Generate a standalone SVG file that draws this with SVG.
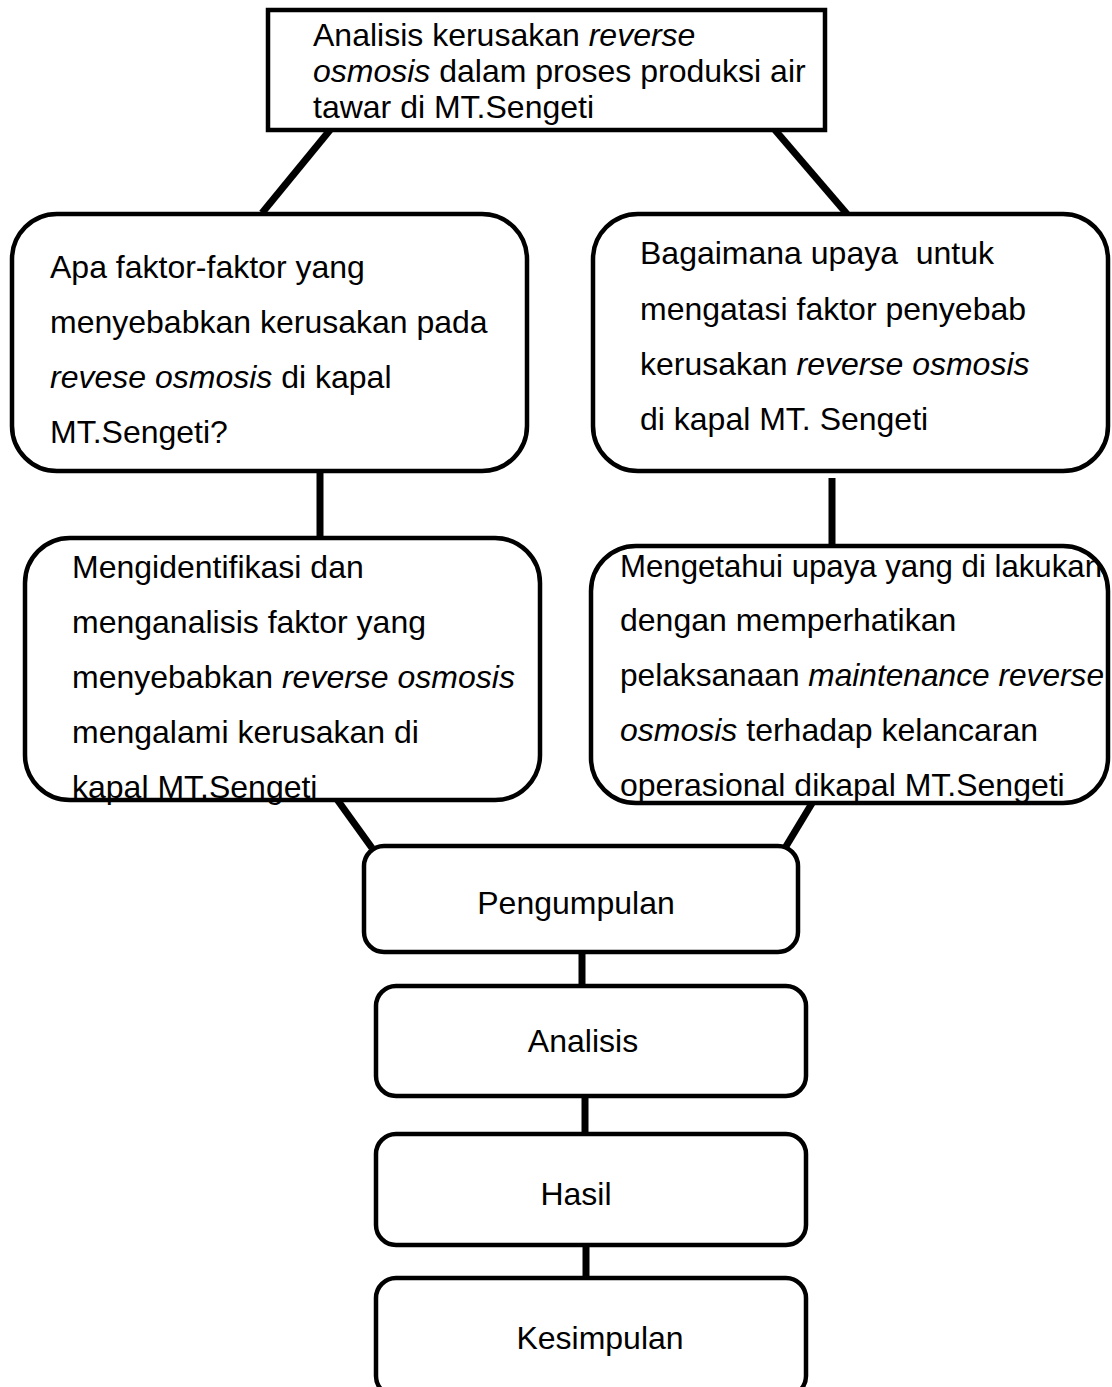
<svg xmlns="http://www.w3.org/2000/svg" width="1112" height="1387" viewBox="0 0 1112 1387">
<style>
.box{fill:#fff;stroke:#000;stroke-width:4.5}
.t{font-family:"Liberation Sans",Arial,sans-serif;font-size:32px;fill:#000;white-space:pre}
.i{font-style:italic}
.c{stroke:#000;stroke-width:7;fill:none}
</style>
<rect width="1112" height="1387" fill="#fff"/>
<g id="connectors">
<line class="c" x1="330" y1="130" x2="262" y2="213"/>
<line class="c" x1="775" y1="130" x2="847" y2="214"/>
<line class="c" x1="320" y1="470" x2="320" y2="538"/>
<line class="c" x1="832" y1="478" x2="832" y2="546"/>
<line class="c" x1="336" y1="798" x2="372" y2="848"/>
<line class="c" x1="814" y1="800" x2="785" y2="848"/>
<line class="c" x1="582" y1="952" x2="582" y2="986"/>
<line class="c" x1="585" y1="1096" x2="585" y2="1134"/>
<line class="c" x1="586" y1="1245" x2="586" y2="1278"/>
</g>
<g id="top">
<rect class="box" x="268" y="10" width="557" height="120"/>
<text class="t" x="313" y="46">Analisis kerusakan <tspan class="i">reverse</tspan></text>
<text class="t" x="313" y="82"><tspan class="i">osmosis</tspan> dalam proses produksi air</text>
<text class="t" x="313" y="118">tawar di MT.Sengeti</text>
</g>
<g id="q1">
<rect class="box" x="12" y="214" width="515" height="257" rx="45"/>
<text class="t" x="50" y="278">Apa faktor-faktor yang</text>
<text class="t" x="50" y="333">menyebabkan kerusakan pada</text>
<text class="t" x="50" y="388"><tspan class="i">revese osmosis</tspan> di kapal</text>
<text class="t" x="50" y="443">MT.Sengeti?</text>
</g>
<g id="q2">
<rect class="box" x="593" y="214" width="515" height="257" rx="45"/>
<text class="t" x="640" y="264" xml:space="preserve">Bagaimana upaya  untuk</text>
<text class="t" x="640" y="320">mengatasi faktor penyebab</text>
<text class="t" x="640" y="375">kerusakan <tspan class="i">reverse osmosis</tspan></text>
<text class="t" x="640" y="430">di kapal MT. Sengeti</text>
</g>
<g id="m1">
<rect class="box" x="25" y="538" width="515" height="262" rx="45"/>
<text class="t" x="72" y="578">Mengidentifikasi dan</text>
<text class="t" x="72" y="633">menganalisis faktor yang</text>
<text class="t" x="72" y="688">menyebabkan <tspan class="i">reverse osmosis</tspan></text>
<text class="t" x="72" y="743">mengalami kerusakan di</text>
<text class="t" x="72" y="798">kapal MT.Sengeti</text>
</g>
<g id="m2">
<rect x="591" y="546" width="517" height="257" rx="45" fill="#fff"/>
<text class="t" x="620" y="577" textLength="482" lengthAdjust="spacingAndGlyphs">Mengetahui upaya yang di lakukan</text>
<rect class="box" x="591" y="546" width="517" height="257" rx="45" style="fill:none"/>
<text class="t" x="620" y="631">dengan memperhatikan</text>
<text class="t" x="620" y="686" textLength="484" lengthAdjust="spacingAndGlyphs">pelaksanaan <tspan class="i">maintenance reverse</tspan></text>
<text class="t" x="620" y="741"><tspan class="i">osmosis</tspan> terhadap kelancaran</text>
<text class="t" x="620" y="796">operasional dikapal MT.Sengeti</text>
</g>
<g id="pengumpulan">
<rect class="box" x="364" y="846" width="434" height="106" rx="20"/>
<text class="t" x="576" y="914" text-anchor="middle">Pengumpulan</text>
</g>
<g id="analisis">
<rect class="box" x="376" y="986" width="430" height="110" rx="20"/>
<text class="t" x="583" y="1052" text-anchor="middle">Analisis</text>
</g>
<g id="hasil">
<rect class="box" x="376" y="1134" width="430" height="111" rx="20"/>
<text class="t" x="576" y="1205" text-anchor="middle">Hasil</text>
</g>
<g id="kesimpulan">
<rect class="box" x="376" y="1278" width="430" height="118" rx="20"/>
<text class="t" x="600" y="1349" text-anchor="middle">Kesimpulan</text>
</g>
</svg>
